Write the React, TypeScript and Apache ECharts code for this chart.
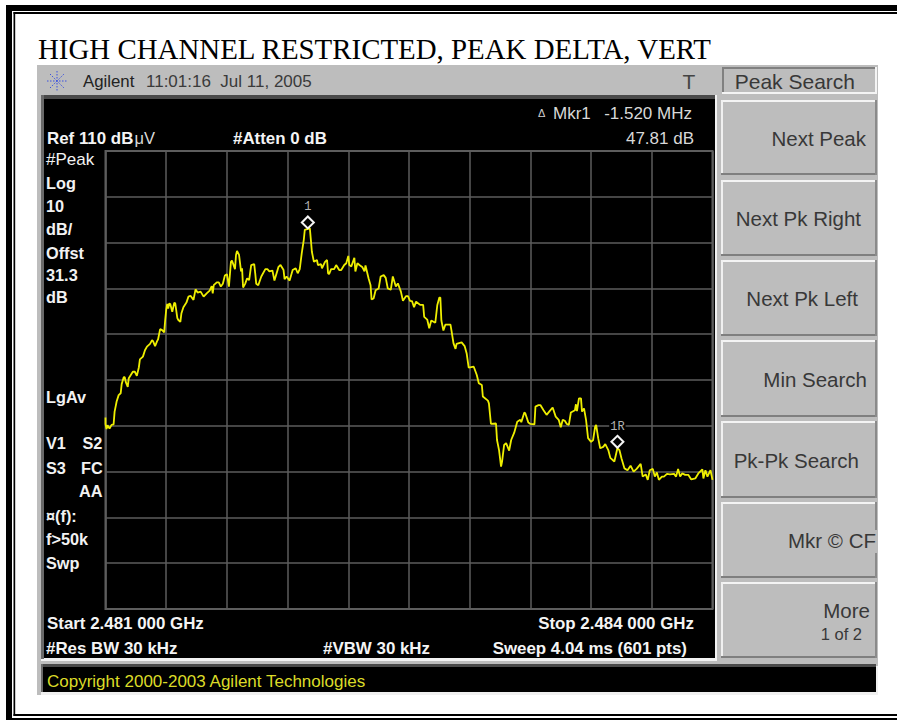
import React, { useEffect, useRef } from "react";
import * as echarts from "echarts";

const chartTitle = "HIGH CHANNEL RESTRICTED, PEAK DELTA, VERT";

// Sweep point number (0-600) and trace level in dBuV
const traceBins = [
  0, 0, 1, 2, 4, 6, 8, 9, 10, 11, 13, 15, 16, 18, 19, 20, 22, 23, 25, 27, 29, 31, 33, 34, 37, 39, 41, 44, 46, 47, 49, 51, 52, 54, 56, 58, 59, 60, 61, 62, 63, 64, 66, 68, 69, 71, 72, 74, 75, 77, 80, 82, 84, 87, 89, 91, 94, 97, 100, 103,
  105, 106, 107, 110, 112, 114, 116, 118, 120, 122, 124, 125, 128, 129, 130, 132, 134, 135, 136, 138, 140, 142, 144, 147, 148, 149, 151, 154, 158, 160, 162, 165, 167, 171, 173, 176, 177, 179, 182, 185, 188, 190, 192, 194, 196, 197, 200, 202,
  203, 204, 206, 209, 210, 213, 214, 217, 219, 220, 221, 223, 226, 228, 231, 233, 236, 238, 240, 241, 243, 246, 247, 249, 251, 254, 256, 257, 260, 262, 263, 265, 267, 270, 272, 275, 277, 279, 282, 284, 287, 289, 292, 294, 297,
  299, 301, 303, 305, 307, 311, 314, 315, 318, 320, 322, 326, 328, 330, 331, 332, 334, 336, 341, 342, 344, 346, 347, 352, 355, 357, 359, 364, 367, 369, 372, 373, 378, 379, 381, 386, 387, 389, 391, 392, 394, 396, 399, 401,
  404, 407, 410, 411, 414, 415, 418, 420, 424, 425, 428, 430, 433, 436, 439, 442, 445, 448, 450, 452, 454, 456, 458, 460, 464, 465, 466, 468, 470, 471, 473, 475, 477, 480, 482, 484, 485, 487, 489, 492, 494, 497, 499, 503,
  506, 508, 510, 513, 516, 519, 522, 525, 529, 531, 534, 536, 538, 541, 543, 545, 547, 550, 552, 555, 558, 562, 564, 566, 568, 570, 573, 576, 579, 583, 586, 590, 591, 593, 595, 598, 600,
];
const traceLevels = [
  51.8, 50.4, 49.3, 50.1, 49.4, 50.2, 50.3, 53.1, 54.2, 55.3, 56.7, 57.1, 59.1, 60.6, 60.6, 59.6, 58.5, 60.4, 61.1, 61.8, 61.8, 60.9, 62.8, 64.5, 65.1, 66.5, 67.3, 67.9, 68.7, 68.5, 67.4, 68.5, 68.9, 71.1, 70.9, 70.4, 73.1, 75.3, 76.6, 75.6, 76.7, 76.6, 74.9, 76.9, 76.7, 73.5, 73.1, 72.7, 74.5, 75.9, 76.9, 78.2, 78.4, 77.5, 79.8, 79.1, 79.3, 78.2, 78.9, 79.5,
  80.5, 78.9, 80.7, 81.3, 81.3, 80.4, 81, 82.8, 83.1, 80.4, 85.8, 86.1, 84.2, 87.3, 88.2, 87.3, 83.7, 84.4, 80.2, 81, 82.2, 81.8, 85.1, 85.3, 83.3, 81, 80.7, 82.6, 84.2, 84.2, 83.7, 83.9, 81.7, 84.7, 85.1, 84, 82, 82.6, 81.7, 84, 84.4, 83.3, 84.2, 87.7, 90.6, 92.8, 93, 93.1,
  90.6, 88, 85.8, 86.2, 85.1, 85.3, 84.4, 85.8, 86.2, 83.3, 83.1, 84.2, 84.2, 85.1, 84, 84, 85.1, 85.5, 87.1, 85.1, 84.8, 86.7, 83.7, 85.5, 85.1, 84.6, 83.7, 85, 82.2, 80.7, 77.6, 77.8, 79.6, 80, 82.6, 82.9, 82.3, 80, 79.7, 82.6, 80.4, 81.1, 79.3, 77.3, 78.3,
  78.3, 77.3, 77.2, 75.9, 77.1, 76.4, 76.4, 73.8, 73.2, 71.3, 73, 72.5, 76.4, 78, 78, 73, 70.8, 72.1, 72.1, 70.8, 68, 66.8, 67.9, 68.2, 67.4, 65.8, 62.7, 62.9, 61.1, 59.3, 58.9, 56.4, 55.5, 54.9, 50.4, 50.5, 46.9, 44.7, 41.1, 42.2, 45.8, 46.2, 44.6, 46.9,
  48.5, 50.9, 51.3, 50.8, 52.9, 52.7, 50.7, 50.4, 50.3, 54.2, 54.5, 54.5, 53.4, 52.4, 53.2, 54, 52, 51.3, 49.7, 51.3, 51.1, 50.4, 50.2, 52.9, 53.4, 54.7, 53.2, 56, 56, 53.1, 53.8, 51.3, 47.3, 46.5, 46.9, 49.8, 50.2, 47.3, 45.1, 45.4, 46, 44.7, 43, 42.2,
  45.1, 44.7, 42.9, 40.7, 40.3, 41.3, 40, 40.6, 41.7, 38.9, 39.4, 38.2, 40.3, 40.6, 38.9, 39.8, 38.2, 38.9, 38.9, 39.5, 39.4, 39.5, 38.9, 40.6, 38.9, 39.6, 39.3, 39.3, 38.3, 38.5, 39.6, 40.5, 38.5, 40.3, 38.9, 40.3, 38.2,
];

const markerBins = [200, 506];
const markerLevels = [94.4, 46.5];
const markerNames = ["1", "1R"];

const softkeyTitle = "Peak Search";
const softkeys = ["Next Peak", "Next Pk Right", "Next Pk Left", "Min Search", "Pk-Pk Search", "Mkr © CF", "More"];
const leftAnnotations = ["#Peak", "Log", "10", "dB/", "Offst", "31.3", "dB", "LgAv", "V1", "S3", "¤(f):", "f>50k", "Swp"];

const SANS = '"Liberation Sans", Arial, sans-serif';

function rect(x: number, y: number, w: number, h: number, fill: string, z = -10) {
  return { type: "rect", z, silent: true, shape: { x, y, width: w, height: h }, style: { fill } };
}
function text(
  x: number, y: number, s: string, fill: string, size: number,
  weight: string = "normal", align: string = "left", family: string = SANS,
) {
  return {
    type: "text", z: 10, silent: true, x, y,
    style: { text: s, fill, fontSize: size, fontWeight: weight, fontFamily: family, textAlign: align, textVerticalAlign: "middle" },
  };
}
function bevel(x: number, y: number, w: number, h: number) {
  return [
    rect(x, y, w, h, "#bdbdbd"),
    rect(x, y, w, 2, "#f4f4f4", -9),
    rect(x, y, 2, h, "#f0f0f0", -9),
    rect(x, y + h - 2, w, 2, "#7f7f7f", -9),
    rect(x + w - 2, y, 2, h, "#8a8a8a", -9),
  ];
}
function spark(cx: number, cy: number) {
  const r = 10;
  const color = "#3a50e0";
  const lines = [[-r, 0, r, 0], [0, -r, 0, r], [-7, -7, 7, 7], [-7, 7, 7, -7]];
  return lines.map(([a, b, c, d]) => ({
    type: "line", z: 10, silent: true,
    shape: { x1: cx + a, y1: cy + b, x2: cx + c, y2: cy + d },
    style: { stroke: color, lineWidth: 1, lineDash: [1.5, 1.5] },
  }));
}

function buildGraphics() {
  const frame = [
    rect(6, 5, 891, 6, "#000"),
    rect(6, 5, 6, 715, "#000"),
    rect(6, 718, 891, 2, "#000"),
    rect(13.5, 12, 883.5, 2, "#000"),
    rect(13.5, 12, 1.7, 704, "#000"),
    rect(13.5, 714, 883.5, 2, "#000"),
  ];
  const panel = [
    rect(37, 65, 841, 630, "#bdbdbd"),
    rect(41, 95, 676, 566, "#f2f2f2"),
    rect(41, 95, 674, 4, "#4a4a4a", -9),
    rect(41, 95, 3, 564, "#6a6a6a", -9),
    rect(44, 99, 671, 559, "#000", -8),
    rect(41, 664, 837, 31, "#f0f0f0"),
    rect(41, 664, 835, 3, "#4a4a4a", -9),
    rect(41, 664, 2, 28, "#6a6a6a", -9),
    rect(43, 667, 833, 25, "#000", -8),
    rect(717, 661, 161, 5, "#bdbdbd"),
    rect(722, 67, 155, 27, "#bdbdbd", -7),
    rect(722, 67, 155, 2, "#808080", -6),
    rect(722, 67, 2, 27, "#808080", -6),
    rect(722, 92, 155, 2, "#f4f4f4", -6),
    rect(875, 67, 2, 27, "#f4f4f4", -6),
  ];
  const keyBoxes = [[100, 75], [180, 76], [260, 76], [340, 77], [421, 77], [502, 76], [582, 76]];
  const keys = keyBoxes.flatMap(([y, h]) => bevel(721, y, 156, h));
  const KEY = "#383838";
  const keyLabels = [
    text(855, 81.5, softkeyTitle, KEY, 21, "normal", "right"),
    text(866, 138.5, softkeys[0], KEY, 20.5, "normal", "right"),
    text(861, 218.5, softkeys[1], KEY, 20.5, "normal", "right"),
    text(858, 298.5, softkeys[2], KEY, 20.5, "normal", "right"),
    text(867, 379.5, softkeys[3], KEY, 20.5, "normal", "right"),
    text(859, 460.5, softkeys[4], KEY, 20.5, "normal", "right"),
    text(876, 540.5, softkeys[5], KEY, 20.5, "normal", "right"),
    text(870, 610.5, softkeys[6], KEY, 20.5, "normal", "right"),
    text(862, 633.5, "1 of 2", KEY, 16.5, "normal", "right"),
  ];
  const leftY = [159, 183, 206, 229, 253, 275, 297, 397, 443, 468, 516, 539, 563];
  const left = leftAnnotations.map((s, i) =>
    text(46, leftY[i], s, "#f2f2f2", i === 0 ? 17 : 16.3, i === 0 ? "normal" : "bold"));
  const B = 16.9;
  const N = 17;
  const screen = [
    text(47, 138, "Ref 110 dB", "#f4f4f4", B, "bold"),
    text(134.5, 138, "μV", "#d8d8d8", 16.5),
    text(233, 138, "#Atten 0 dB", "#f4f4f4", B, "bold"),
    text(538, 113, "Δ", "#cfcfcf", 11),
    text(553, 113, "Mkr1", "#d8d8d8", N),
    text(692, 113, "-1.520 MHz", "#d8d8d8", N, "normal", "right"),
    text(694, 138, "47.81 dB", "#d8d8d8", N, "normal", "right"),
    text(82.5, 443, "S2", "#f2f2f2", 16.3, "bold"),
    text(81, 468, "FC", "#f2f2f2", 16.3, "bold"),
    text(79, 491, "AA", "#f2f2f2", 16.3, "bold"),
    text(47, 623, "Start 2.481 000 GHz", "#f4f4f4", B, "bold"),
    text(694, 623, "Stop 2.484 000 GHz", "#f4f4f4", B, "bold", "right"),
    text(46, 648, "#Res BW 30 kHz", "#f4f4f4", B, "bold"),
    text(323, 648, "#VBW 30 kHz", "#f4f4f4", B, "bold"),
    text(687, 648, "Sweep 4.04 ms (601 pts)", "#f4f4f4", B, "bold", "right"),
    text(47, 681, "Copyright 2000-2003 Agilent Technologies", "#dcdc28", 17),
  ];
  const topBar = [
    ...spark(57, 81),
    text(83, 81, "Agilent", "#222", 16.8),
    text(146, 81, "11:01:16  Jul 11, 2005", "#3a3a3a", 17),
    text(689, 81, "T", "#444", 21, "normal", "center"),
  ];
  const cfNotch = [rect(875, 530, 3, 23, "#bdbdbd", -7)];
  return [...frame, ...panel, ...keys, ...cfNotch, ...keyLabels, ...left, ...screen, ...topBar];
}

export default function App() {
  const ref = useRef<HTMLDivElement>(null);
  useEffect(() => {
    const chart = echarts.init(ref.current!, undefined, { renderer: "svg" });
    chart.setOption({
      animation: false,
      backgroundColor: "#fff",
      title: {
        text: chartTitle,
        left: 33,
        top: 29.5,
        textStyle: { color: "#000", fontFamily: '"Liberation Serif", serif', fontSize: 28.9, fontWeight: "normal" },
      },
      grid: { left: 105.5, top: 151, width: 607, height: 458, show: true, borderColor: "#606060", borderWidth: 2, backgroundColor: "transparent" },
      xAxis: {
        type: "value", min: 0, max: 600, interval: 60,
        axisLine: { show: false }, axisTick: { show: false }, axisLabel: { show: false },
        splitLine: { show: true, lineStyle: { color: "#5c5c5c", width: 1.5 } },
      },
      yAxis: {
        type: "value", min: 10, max: 110, interval: 10,
        axisLine: { show: false }, axisTick: { show: false }, axisLabel: { show: false },
        splitLine: { show: true, lineStyle: { color: "#5c5c5c", width: 1.5 } },
      },
      graphic: buildGraphics(),
      series: [
        {
          type: "line", silent: true, clip: false, showSymbol: false, symbol: "none",
          lineStyle: { color: "#eeee00", width: 1.8 }, z: 3,
          data: traceBins.map((b, i) => [b, traceLevels[i]]),
        },
        {
          type: "scatter", silent: true, symbol: "diamond", symbolSize: 12, z: 4,
          itemStyle: { color: "#000", borderColor: "#f4f4f4", borderWidth: 2, opacity: 1 },
          label: {
            show: true, position: "top", distance: 2,
            formatter: (p: any) => markerNames[p.dataIndex],
            color: "#b4b4b4", fontSize: 12, fontFamily: '"Liberation Mono", monospace',
            backgroundColor: "#000", padding: [0, 1],
          },
          data: markerBins.map((b, i) => [b, markerLevels[i]]),
        },
      ],
    });
    return () => chart.dispose();
  }, []);
  return <div ref={ref} style={{ position: "fixed", left: 0, top: 0, width: 897, height: 720 }} />;
}
